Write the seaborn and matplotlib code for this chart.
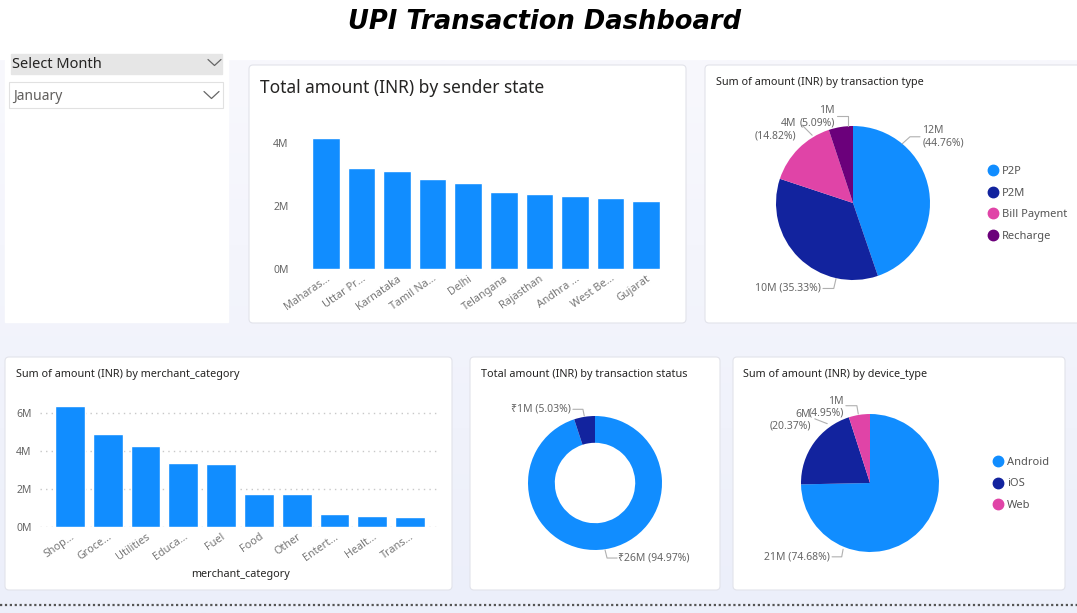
import numpy as np
import matplotlib
matplotlib.use("Agg")
import matplotlib.pyplot as plt
from matplotlib.patches import FancyBboxPatch, Rectangle
from matplotlib.lines import Line2D
from matplotlib.ticker import FuncFormatter
import seaborn as sns

sns.set_theme(style="white")
plt.rcParams["font.family"] = ["Noto Sans", "DejaVu Sans"]

# ---- data (amounts in millions INR) ----
states = ["Maharashtra", "Uttar Pradesh", "Karnataka", "Tamil Nadu", "Delhi",
          "Telangana", "Rajasthan", "Andhra Pradesh", "West Bengal", "Gujarat"]
state_ticks = ["Maharas...", "Uttar Pr...", "Karnataka", "Tamil Na...", "Delhi",
               "Telangana", "Rajasthan", "Andhra ...", "West Be...", "Gujarat"]
state_amount = [4.14, 3.19, 3.09, 2.84, 2.73, 2.43, 2.39, 2.32, 2.25, 2.17]

merchants = ["Shopping", "Groceries", "Utilities", "Education", "Fuel",
             "Food", "Other", "Entertainment", "Healthcare", "Transport"]
merchant_ticks = ["Shop...", "Groce...", "Utilities", "Educa...", "Fuel",
                  "Food", "Other", "Entert...", "Healt...", "Trans..."]
merchant_amount = [6.39, 4.88, 4.26, 3.35, 3.33, 1.75, 1.74, 0.68, 0.58, 0.51]

tx_types = ["P2P", "P2M", "Bill Payment", "Recharge"]
tx_share = [44.76, 35.33, 14.82, 5.09]
tx_amount = ["12M", "10M", "4M", "1M"]

status = ["SUCCESS", "FAILED"]
status_share = [94.97, 5.03]
status_amount = ["₹26M", "₹1M"]

devices = ["Android", "iOS", "Web"]
device_share = [74.68, 20.37, 4.95]
device_amount = ["21M", "6M", "1M"]

# Power BI default palette
BLUE, NAVY, PINK, PURPLE = "#118DFF", "#12239E", "#E044A7", "#6B007B"
TXT, GREY = "#252423", "#666666"

W, H = 1077, 613
fig = plt.figure(figsize=(W / 100, H / 100), dpi=100)
fig.patch.set_facecolor("white")


def px_axes(x0, y0, x1, y1):
    """Axes from pixel box (y measured from the top)."""
    return fig.add_axes([x0 / W, 1 - y1 / H, (x1 - x0) / W, (y1 - y0) / H])


# ---- background, cards, slicer ----
bg = fig.add_axes([0, 0, 1, 1], zorder=-5)
bg.set_xlim(0, W)
bg.set_ylim(H, 0)
bg.axis("off")
top = np.array([248, 248, 253]) / 255
bottom = np.array([236, 239, 250]) / 255
grad = np.linspace(0, 1, 200)[:, None, None] * (bottom - top) + top
bg.imshow(grad, extent=[0, W, H, 60], aspect="auto", zorder=0)

bg.add_patch(Rectangle((5, 50), 223, 272, color="white", zorder=1))
cards = [(249, 65, 686, 323), (705, 65, 1085, 323), (5, 357, 452, 590),
         (470, 357, 720, 590), (733, 357, 1065, 590)]
for x0, y0, x1, y1 in cards:
    bg.add_patch(FancyBboxPatch((x0, y0), x1 - x0, y1 - y0,
                                boxstyle="round,pad=0,rounding_size=4",
                                fc="white", ec="#e2e3ea", lw=0.8, zorder=2))

bg.add_patch(Rectangle((11, 54), 211, 20, color="#e6e6e6", zorder=3))
bg.add_patch(Rectangle((9, 82), 214, 26, fc="white", ec="#e1e1e1", lw=0.8, zorder=3))
bg.text(12, 64.5, "Select Month", fontsize=10.5, color=TXT, va="center", zorder=4)
bg.text(13, 96, "January", fontsize=10, color="#605E5C", va="center", zorder=4)
bg.plot([208, 214.5, 221], [59.5, 65.5, 59.5], color=GREY, lw=0.9, zorder=4)
bg.plot([204, 211.5, 219], [91.5, 98.5, 91.5], color=GREY, lw=0.9, zorder=4)

bg.text(545, 22, "UPI Transaction Dashboard", fontsize=18.5, fontweight="bold",
        style="oblique", family="DejaVu Sans", color="black",
        ha="center", va="center", zorder=4)
bg.text(260, 88, "Total amount (INR) by sender state", fontsize=12.5,
        fontweight="semibold", color=TXT, va="center", zorder=4)
small_titles = [(716, 83, "Sum of amount (INR) by transaction type"),
                (16, 375, "Sum of amount (INR) by merchant_category"),
                (481, 375, "Total amount (INR) by transaction status"),
                (743, 375, "Sum of amount (INR) by device_type")]
for x, y, t in small_titles:
    bg.text(x, y, t, fontsize=7.8, fontweight="semibold", color=TXT,
            va="center", zorder=4)
bg.text(240, 574, "merchant_category", fontsize=7.8, fontweight="semibold",
        color=TXT, ha="center", va="center", zorder=4)
bg.plot([0, W], [605, 605], color="#555555", lw=1.6, ls=(0, (1, 1.2)), zorder=4)

mfmt = FuncFormatter(lambda v, _: f"{v:.0f}M")


def style_bars(ax, ymax, yticks, ypad, grid):
    ax.set_facecolor("none")
    ax.set_ylim(0, ymax)
    ax.set_yticks(yticks)
    ax.yaxis.set_major_formatter(mfmt)
    ax.set_xlabel("")
    ax.set_ylabel("")
    for s in ax.spines.values():
        s.set_visible(False)
    ax.tick_params(axis="y", length=0, pad=ypad, labelsize=7.5, labelcolor=GREY)
    ax.tick_params(axis="x", length=0, pad=3, labelsize=7.8, labelcolor="#777777")
    for lab in ax.get_xticklabels():
        lab.set_rotation(35)
        lab.set_ha("right")
        lab.set_rotation_mode("anchor")
    if grid:
        ax.yaxis.grid(True, color="#c8c8c8", ls=(0, (1, 3)), lw=1)
        ax.set_axisbelow(True)


# ---- bar chart: sender state ----
ax1 = px_axes(308, 127, 664, 269)
sns.barplot(x=state_ticks, y=state_amount, color=BLUE, saturation=1,
            width=0.78, ax=ax1)
ax1.set_xlim(-0.5, 9.5)
style_bars(ax1, 4.5, [0, 2, 4], 14, False)

# ---- bar chart: merchant category ----
ax3 = px_axes(40, 398, 440, 527)
sns.barplot(x=merchant_ticks, y=merchant_amount, color=BLUE, saturation=1,
            width=0.79, ax=ax3)
ax3.set_xlim(-0.79, 9.79)
style_bars(ax3, 6.8, [0, 2, 4, 6], 6, True)


def pie_panel(cx, cy, r, shares, colors, texts, layout, hole=None):
    ax = px_axes(cx - r, cy - r, cx + r, cy + r)
    wp = dict(linewidth=0)
    if hole:
        wp["width"] = hole
    ax.pie(shares, colors=colors, startangle=90, counterclock=False,
           radius=1, wedgeprops=wp)
    ax.set_xlim(-1, 1)
    ax.set_ylim(-1, 1)
    ax.set_aspect("equal")
    ax.axis("off")
    for txt, (path, (tx, ty, ha)) in zip(texts, layout):
        xs, ys = zip(*path)
        ax.plot(xs, ys, color="#b0b0b0", lw=0.8, clip_on=False)
        ax.text(tx, ty, txt, fontsize=7.5, color=GREY, ha=ha, va="center",
                multialignment="right" if ha == "right" else "left",
                linespacing=1.15)
    return ax


def legend_at(ax, labels, colors, x, y):
    handles = [Line2D([], [], marker="o", ls="", color=c, markersize=7.5)
               for c in colors]
    ax.legend(handles, labels, loc="center left", bbox_to_anchor=(x / W, 1 - y / H),
              bbox_transform=fig.transFigure, frameon=False, fontsize=8,
              labelcolor="#555555", handlelength=0.7, handletextpad=0.45,
              labelspacing=0.95, borderpad=0, borderaxespad=0)


# ---- pie: transaction type ----
tx_text = [f"{tx_amount[0]}\n({tx_share[0]:.2f}%)", f"{tx_amount[1]} ({tx_share[1]:.2f}%)",
           f"{tx_amount[2]}\n({tx_share[2]:.2f}%)", f"{tx_amount[3]}\n({tx_share[3]:.2f}%)"]
tx_layout = [([(0.64, 0.77), (0.74, 0.86), (0.87, 0.86)], (0.90, 0.86, "left")),
             ([(-0.22, -0.98), (-0.25, -1.11), (-0.39, -1.11)], (-0.42, -1.11, "right")),
             ([(-0.53, 0.88), (-0.66, 1.01)], (-0.74, 0.95, "right")),
             ([(-0.07, 1.0), (-0.07, 1.13), (-0.21, 1.13)], (-0.24, 1.12, "right"))]
axp = pie_panel(853, 203, 77, tx_share, [BLUE, NAVY, PINK, PURPLE], tx_text, tx_layout)
legend_at(axp, tx_types, [BLUE, NAVY, PINK, PURPLE], 989, 204)

# ---- donut: transaction status ----
st_text = [f"{a} ({s:.2f}%)" for a, s in zip(status_amount, status_share)]
st_layout = [([(0.15, -1.0), (0.18, -1.12), (0.33, -1.12)], (0.35, -1.12, "left")),
             ([(-0.16, 1.0), (-0.18, 1.10), (-0.33, 1.10)], (-0.36, 1.10, "right"))]
pie_panel(595, 483, 67, status_share, [BLUE, NAVY], st_text, st_layout, hole=0.4)

# ---- pie: device type ----
dv_text = [f"{device_amount[0]} ({device_share[0]:.2f}%)",
           f"{device_amount[1]}\n({device_share[1]:.2f}%)",
           f"{device_amount[2]}\n({device_share[2]:.2f}%)"]
dv_layout = [([(-0.39, -0.96), (-0.41, -1.07), (-0.55, -1.07)], (-0.58, -1.07, "right")),
             ([(-0.62, 0.86), (-0.80, 0.93)], (-0.86, 0.91, "right")),
             ([(-0.17, 1.0), (-0.19, 1.12), (-0.35, 1.12)], (-0.38, 1.10, "right"))]
axd = pie_panel(870, 483, 69, device_share, [BLUE, NAVY, PINK], dv_text, dv_layout)
legend_at(axd, devices, [BLUE, NAVY, PINK], 994, 484)

fig.savefig("out.png", dpi=100, facecolor=fig.get_facecolor())
